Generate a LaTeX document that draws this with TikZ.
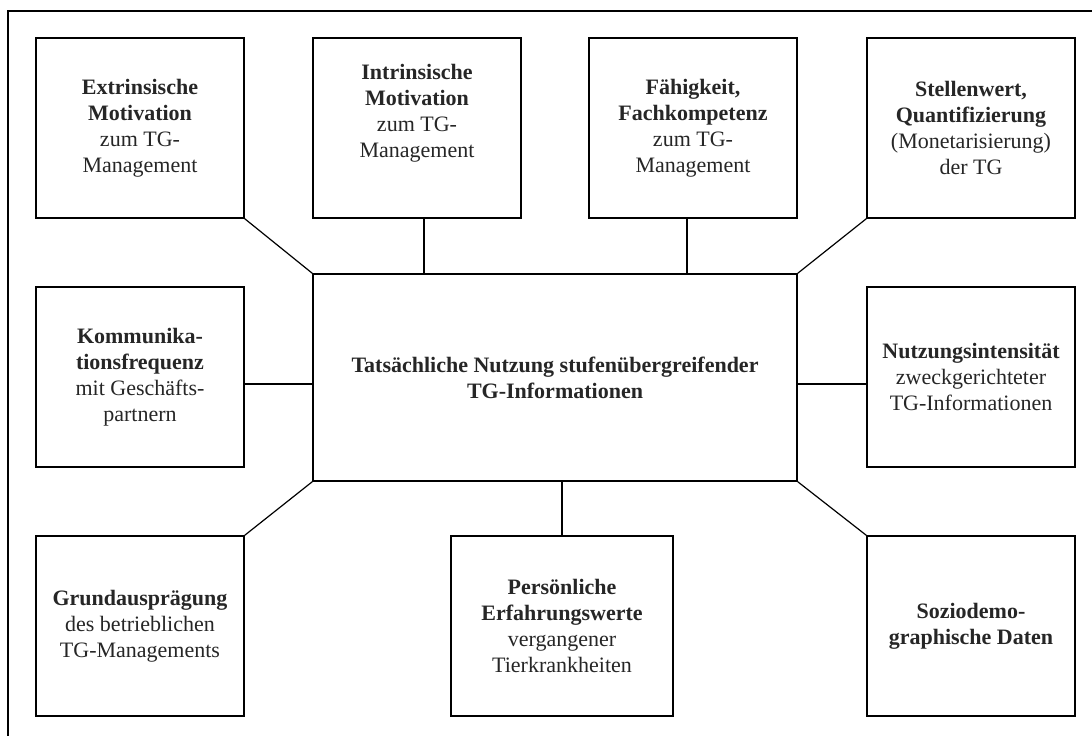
\documentclass[tikz,border=0pt]{standalone}
\usepackage{fontspec}
\setmainfont{Liberation Serif}
\begin{document}
\begin{tikzpicture}[x=1pt,y=-1pt,
  factor/.style={draw=black, line width=1.4pt, rectangle, align=center,
    minimum width=208pt, minimum height=180pt, inner sep=4pt,
    text=black!85, font=\fontsize{22}{26}\selectfont},
  core/.style={factor, minimum width=484pt, minimum height=207pt},
  link/.style={draw=black, line width=1.2pt},
  frame/.style={draw=black, line width=1.3pt}]

\useasboundingbox (0,0) rectangle (1092,736);
\fill[white] (0,0) rectangle (1092,736);

% surrounding frame (continues past the right and bottom edge)
\coordinate (fa) at (1092,11);
\coordinate (fb) at (8,11);
\coordinate (fc) at (8,736);
\draw[frame] (fa) -- (fb) -- (fc);

% central node
\node[core] (c) at (555,377.5)
  {\textbf{Tatsächliche Nutzung stufenübergreifender}\\\textbf{TG-Informationen}};

% top row
\node[factor] (b1) at (140,128)
  {\textbf{Extrinsische}\\\textbf{Motivation}\\zum TG-\\Management};
\node[factor] (b2) at (417,128)
  {\textbf{Intrinsische}\\\textbf{Motivation}\\zum TG-\\Management\\\strut};
\node[factor] (b3) at (693,128)
  {\textbf{Fähigkeit,}\\\textbf{Fachkompetenz}\\zum TG-\\Management};
\node[factor] (b4) at (971,128)
  {\textbf{Stellenwert,}\\\textbf{Quantifizierung}\\(Monetarisierung)\\der TG};

% middle row
\node[factor] (m1) at (140,377)
  {\textbf{Kommunika-}\\\textbf{tionsfrequenz}\\mit Geschäfts-\\partnern};
\node[factor] (m4) at (971,377)
  {\textbf{Nutzungsintensität}\\zweckgerichteter\\TG-Informationen};

% bottom row
\node[factor] (u1) at (140,626)
  {\textbf{Grundausprägung}\\des betrieblichen\\TG-Managements};
\node[factor, minimum width=222pt] (u2) at (562,626)
  {\textbf{Persönliche}\\\textbf{Erfahrungswerte}\\vergangener\\Tierkrankheiten};
\node[factor] (u4) at (971,626)
  {\textbf{Soziodemo-}\\\textbf{graphische Daten}};

% connectors
\draw[link] (b1.south east) -- (c.north west);
\draw[link] ([xshift=7pt]b2.south) -- ([xshift=7pt]b2.south |- c.north);
\draw[link] ([xshift=-6pt]b3.south) -- ([xshift=-6pt]b3.south |- c.north);
\draw[link] (b4.south west) -- (c.north east);
\draw[link] ([yshift=-7pt]m1.east) -- ([yshift=-7pt]m1.east -| c.west);
\draw[link] ([yshift=-7pt]m4.west) -- ([yshift=-7pt]m4.west -| c.east);
\draw[link] (u1.north east) -- (c.south west);
\draw[link] (u2.north) -- (u2.north |- c.south);
\draw[link] (u4.north west) -- (c.south east);
\end{tikzpicture}
\end{document}
